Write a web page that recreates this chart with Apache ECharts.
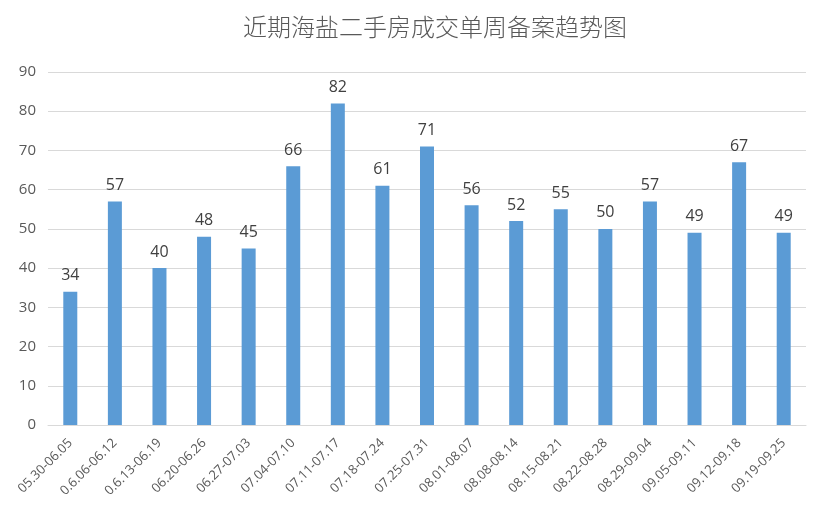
<!DOCTYPE html>
<html><head><meta charset="utf-8">
<script src="https://cdn.jsdelivr.net/npm/echarts@6/dist/echarts.min.js"></script>
<style>html,body{margin:0;padding:0;background:#fff}#c{width:816px;height:514px}</style>
</head><body><div id="c"></div>
<script>
const categories = ["05.30-06.05","0.6.06-06.12","0.6.13-06.19","06.20-06.26","06.27-07.03","07.04-07.10","07.11-07.17","07.18-07.24","07.25-07.31","08.01-08.07","08.08-08.14","08.15-08.21","08.22-08.28","08.29-09.04","09.05-09.11","09.12-09.18","09.19-09.25"];
const values = [34,57,40,48,45,66,82,61,71,56,52,55,50,57,49,67,49];
const yTicks = {min:0, max:90, interval:10};
const title = "近期海盐二手房成交单周备案趋势图";
const chart = echarts.init(document.getElementById('c'), null, {renderer:'canvas'});
chart.setOption({
  animation:false,
  title:{text:title,left:238,top:10,textStyle:{fontFamily:'Noto Sans CJK SC',fontSize:24,fontWeight:300,color:'#595959'}},
  grid:{left:48,right:10,top:72,bottom:89,containLabel:false},
  xAxis:{type:'category',data:categories,
    axisLine:{lineStyle:{color:'#d9d9d9'}},axisTick:{show:false},
    axisLabel:{rotate:45,interval:0,fontSize:13,color:'#595959',fontFamily:'Open Sans',margin:16}},
  yAxis:{type:'value',min:yTicks.min,max:yTicks.max,interval:yTicks.interval,
    axisLine:{show:false},axisTick:{show:false},
    splitLine:{lineStyle:{color:'#d9d9d9'}},
    axisLabel:{fontSize:15,color:'#595959',fontFamily:'Open Sans',margin:12}},
  series:[{type:'bar',data:values,barWidth:14,itemStyle:{color:'#5b9bd5'},
    label:{show:true,position:'top',distance:8,fontSize:16,color:'#404040',fontFamily:'Open Sans'}}]
});
</script></body></html>
